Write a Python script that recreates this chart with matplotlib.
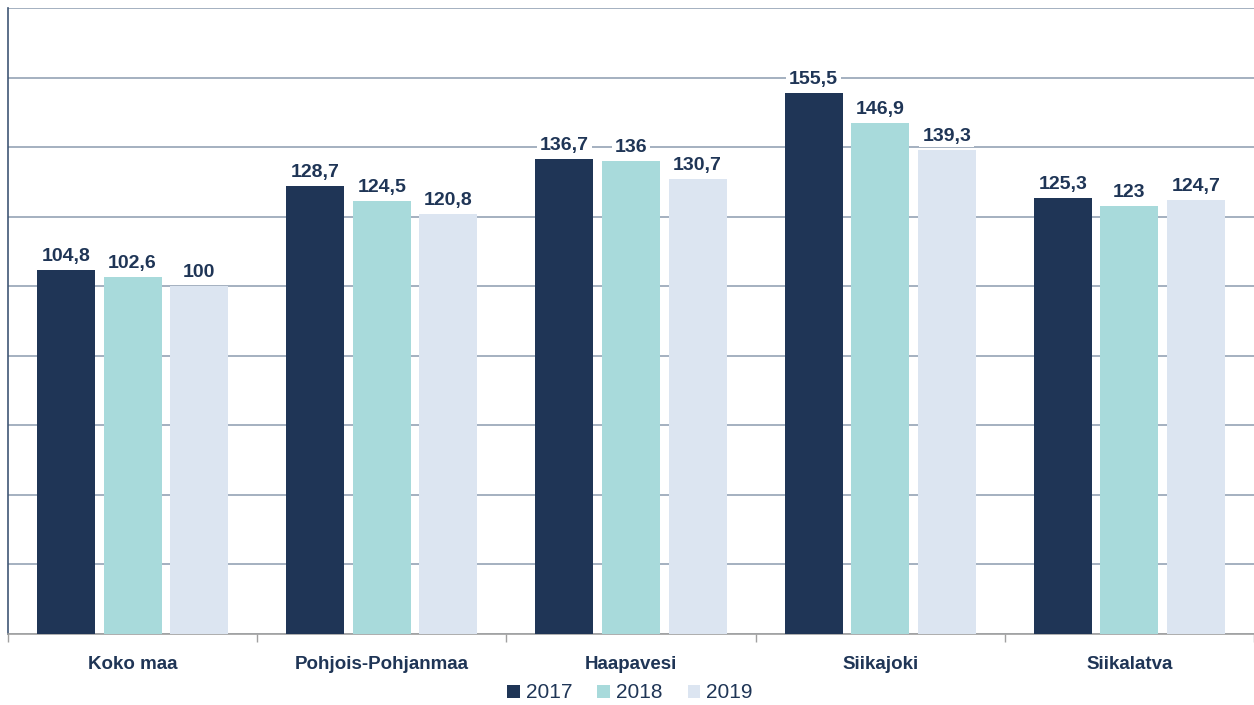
import matplotlib
matplotlib.use("Agg")
import matplotlib.pyplot as plt
import numpy as np

categories = ["Koko maa", "Pohjois-Pohjanmaa", "Haapavesi", "Siikajoki", "Siikalatva"]
years = ["2017", "2018", "2019"]
v2017 = [104.8, 128.7, 136.7, 155.5, 125.3]
v2018 = [102.6, 124.5, 136.0, 146.9, 123.0]
v2019 = [100.0, 120.8, 130.7, 139.3, 124.7]
series = [v2017, v2018, v2019]
colors = ["#1F3556", "#A8DADB", "#DCE5F1"]
text_color = "#1F3556"

plt.rcParams['font.family'] = ['Liberation Sans', 'DejaVu Sans']

fig = plt.figure(figsize=(12.54, 7.05), dpi=100)
ax = fig.add_axes([8/1254, 1-634/705, 1-8/1254, (634-8)/705])

x = np.arange(len(categories))
w = 0.233
step = 0.267
for i, (vals, c, yr) in enumerate(zip(series, colors, years)):
    pos = x + (i-1)*step
    ax.bar(pos, vals, width=w, color=c, label=yr, zorder=3)
    for p, v in zip(pos, vals):
        s = f"{v:g}".replace(".", ",")
        ax.annotate(s, (p, v), xytext=(0, 6.5), textcoords="offset points",
                    ha="center", va="baseline", fontsize=14,
                    fontweight="bold", color=text_color, zorder=4,
                    bbox=dict(boxstyle="square,pad=0.15", fc="white", ec="none"))

ax.set_xlim(-0.5, len(categories)-0.5)
ax.set_ylim(0, 180)
ax.set_yticks(np.arange(0, 181, 20))
ax.yaxis.grid(True, color="#95A3B5", linewidth=1.2, zorder=0)
ax.tick_params(axis="y", left=False, labelleft=False)
ax.set_xticks(x)
ax.set_xticklabels(categories, fontsize=13.5, fontweight="bold", color=text_color)
ax.tick_params(axis="x", length=0, pad=16)
ax.set_xticks(np.arange(-0.5, len(categories), 1), minor=True)
ax.tick_params(axis="x", which="minor", length=6, color="#A0A0A0", width=1)

for s in ["top", "right"]:
    ax.spines[s].set_visible(False)
ax.spines["left"].set_color("#3F5675")
ax.spines["left"].set_linewidth(1.2)
ax.spines["bottom"].set_color("#A0A0A0")
ax.spines["bottom"].set_linewidth(1.2)

leg = ax.legend(loc="center", bbox_to_anchor=(630/1254, 1-693/705),
                bbox_transform=fig.transFigure, ncol=3, frameon=False,
                fontsize=15, handlelength=0.6, handleheight=0.6,
                handletextpad=0.3, columnspacing=1.2)
for t in leg.get_texts():
    t.set_color(text_color)

fig.savefig("out.png", dpi=100)
